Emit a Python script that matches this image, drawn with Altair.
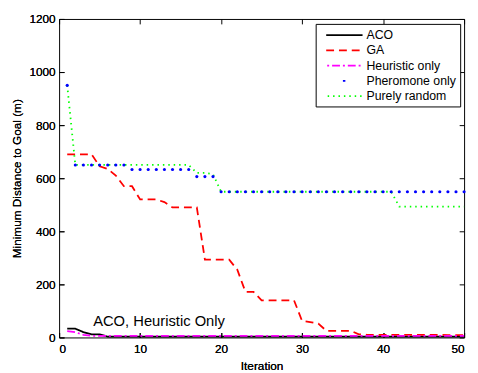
import altair as alt
import pandas as pd

iterations = list(range(1, 51))
aco = [33, 33, 20, 12, 12] + [3] * 45
ga = [690, 690, 690, 690, 645, 635, 610, 570, 570, 520,
      520, 520, 510, 490, 490, 490, 490, 293, 293, 293,
      293, 255, 172, 172, 140, 140, 140, 140, 140, 62,
      58, 52, 25, 25, 25, 25, 12, 10, 10, 10,
      10, 10, 10, 10, 10, 10, 10, 9, 9, 9]
heuristic = [24, 20, 10] + [6] * 47
pheromone = [950] + [650] * 7 + [633] * 8 + [606] * 3 + [549] * 31
purely_random = [950] + [650] * 15 + [620] * 2 + [615] + [549] * 22 + [493] * 9

series_names = ["ACO", "GA", "Heuristic only", "Pheromone only", "Purely random"]
series_colors = ["#000000", "#ff0000", "#ff00ff", "#0000ff", "#00ff00"]
series_dashes = [[1, 0], [8, 5], [8, 3, 2, 3], [2.5, 40.5], [1.5, 4]]

x_ticks = [0, 10, 20, 30, 40, 50]
y_ticks = [0, 200, 400, 600, 800, 1000, 1200]

ann_x = [4.2]
ann_y = [43]
ann_text = ["ACO, Heuristic Only"]

FONT = "Liberation Sans"

rows = []
for name, vals in zip(series_names, [aco, ga, heuristic, pheromone, purely_random]):
    for it, v in zip(iterations, vals):
        rows.append({"iter": it, "value": v, "series": name})
df = pd.DataFrame(rows)
lines_df = df[df["series"] != "Pheromone only"]
points_df = df[df["series"] == "Pheromone only"]
ann_df = pd.DataFrame({"iter": ann_x, "value": ann_y, "text": ann_text})

xscale = alt.Scale(domain=[0, 50], nice=False)
yscale = alt.Scale(domain=[0, 1200], nice=False)

common_axis = dict(grid=False, domain=False, tickSize=5, offset=-5, tickColor="black")

x_bottom = alt.X("iter:Q", scale=xscale,
                 axis=alt.Axis(orient="bottom", values=x_ticks, title="Iteration", format="d",
                               labelPadding=6, titlePadding=7, **common_axis))
y_left = alt.Y("value:Q", scale=yscale,
               axis=alt.Axis(orient="left", values=y_ticks, format="d",
                             title="Minimum Distance to Goal (m)",
                             labelPadding=4, titlePadding=6, **common_axis))
x_top = alt.X("iter:Q", scale=xscale,
              axis=alt.Axis(orient="top", values=x_ticks, title=None, labels=False, **common_axis))
y_right = alt.Y("value:Q", scale=yscale,
                axis=alt.Axis(orient="right", values=y_ticks, title=None, labels=False, **common_axis))

lines = alt.Chart(lines_df).mark_line(strokeWidth=1.8).encode(
    x=x_bottom,
    y=y_left,
    color=alt.Color("series:N", scale=alt.Scale(domain=series_names, range=series_colors),
                    legend=alt.Legend(title=None)),
    strokeDash=alt.StrokeDash("series:N", scale=alt.Scale(domain=series_names, range=series_dashes),
                              legend=alt.Legend(title=None)),
    detail="series:N",
)

points = alt.Chart(points_df).mark_circle(size=10, opacity=1).encode(
    x=x_top,
    y=y_right,
    color=alt.value("#0000ff"),
)

ann = alt.Chart(ann_df).mark_text(align="left", baseline="alphabetic", fontSize=15,
                                  font=FONT, color="black").encode(
    x=x_bottom,
    y=y_left,
    text="text:N",
)

chart = alt.layer(lines, points, ann).properties(
    width=412, height=324,
    autosize=alt.AutoSizeParams(type="none"),
    padding={"left": 52, "top": 8, "right": 6, "bottom": 33},
).configure_view(
    stroke="black", strokeWidth=1
).configure_axis(
    labelFont=FONT, titleFont=FONT, labelFontSize=12, titleFontSize=12,
    titleFontWeight="normal", labelColor="black", titleColor="black",
).configure_legend(
    orient="none", legendX=261, legendY=5,
    strokeColor="black", fillColor="white", padding=4,
    symbolType="M-3,0H3", symbolSize=152, symbolStrokeWidth=1.8,
    symbolDashOffset=26, symbolOffset=17.7,
    labelFont=FONT, labelFontSize=12.5, labelColor="black", labelOffset=15,
    rowPadding=1.5,
)

chart.save("out.html", embed_options={"renderer": "svg", "actions": False})
